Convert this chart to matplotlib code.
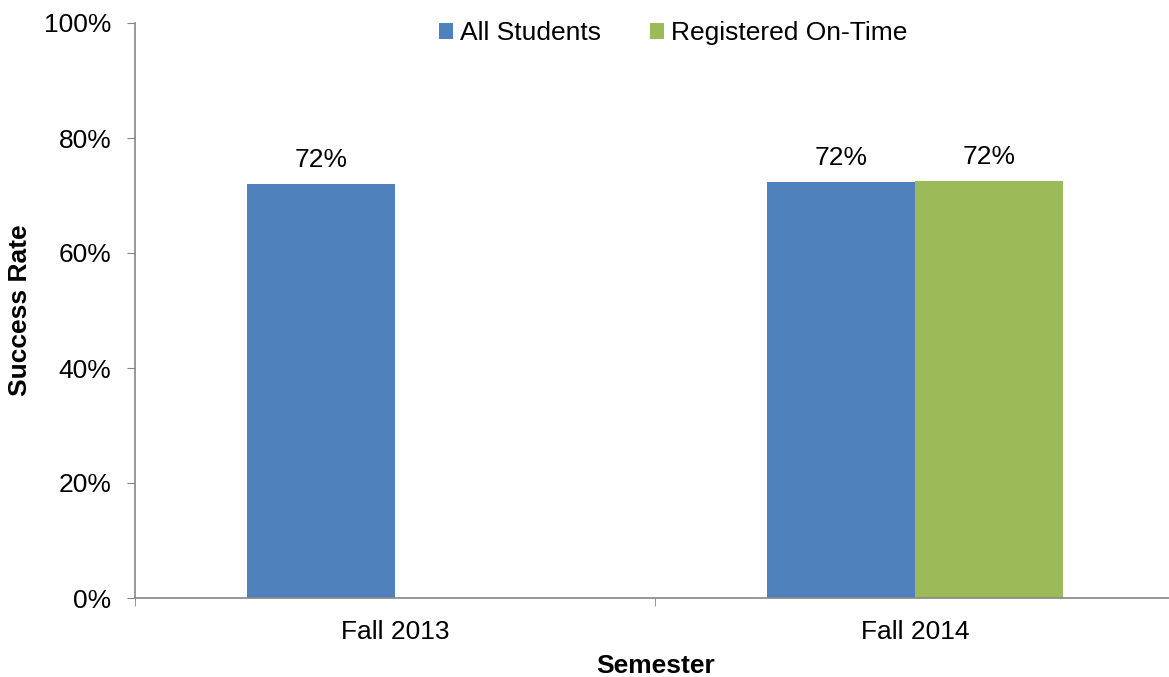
import matplotlib
matplotlib.use("Agg")
import matplotlib.pyplot as plt
import numpy as np

plt.rcParams['font.family'] = ['Liberation Sans', 'DejaVu Sans']

semesters = ["Fall 2013", "Fall 2014"]
all_students = [0.72, 0.724]
registered_on_time = [np.nan, 0.725]
all_labels = ["72%", "72%"]
reg_labels = ["", "72%"]
series_names = ["All Students", "Registered On-Time"]

blue = "#4F81BD"
green = "#9BBB59"
axis_gray = "#868686"
FS = 19

fig = plt.figure(figsize=(11.69, 6.77), dpi=100)
ax = fig.add_axes([135/1169, 79/677, 1040/1169, 575/677])

x = np.arange(len(semesters))
w = 0.285
b1 = ax.bar(x - w/2, all_students, width=w, color=blue, label=series_names[0])
b2 = ax.bar(x + w/2, registered_on_time, width=w, color=green, label=series_names[1])

for bars, labels in ((b1, all_labels), (b2, reg_labels)):
    for rect, lab in zip(bars, labels):
        h = rect.get_height()
        if lab and not np.isnan(h):
            ax.annotate(lab, (rect.get_x() + rect.get_width()/2, h), xytext=(0, 8.5),
                        textcoords="offset points", ha="center", va="bottom", fontsize=FS)

ax.set_xlim(-0.5, len(semesters) - 0.5)
ax.set_ylim(0, 1.0)
yt = np.arange(0, 1.01, 0.2)
ax.set_yticks(yt)
ax.set_yticklabels([f"{int(round(v*100))}%" for v in yt], fontsize=FS)
ax.set_xticks(x)
ax.set_xticklabels(semesters, fontsize=FS)
ax.tick_params(axis='x', which='major', length=0, pad=15.5)
ax.set_xticks(np.arange(-0.5, len(semesters), 1.0), minor=True)
ax.tick_params(axis='x', which='minor', length=6, color=axis_gray, direction='out')
ax.tick_params(axis='y', length=6, color=axis_gray, direction='out', pad=11)

for s in ['top', 'right']:
    ax.spines[s].set_visible(False)
for s in ['left', 'bottom']:
    ax.spines[s].set_color(axis_gray)
    ax.spines[s].set_linewidth(1.2)

fig.text(20/1169, (677 - 310)/677, "Success Rate", rotation=90, ha="center", va="center",
         fontsize=FS, fontweight='bold')
fig.text(656/1169, (677 - 666)/677, "Semester", ha="center", va="center",
         fontsize=FS, fontweight='bold')

leg = ax.legend(loc='center', bbox_to_anchor=((673 - 135) / 1040, (598 - 33) / 575),
                ncol=2, frameon=False, fontsize=FS, handlelength=0.55, handleheight=0.55,
                handletextpad=0.25, columnspacing=1.85, borderpad=0)

fig.savefig("out.png", dpi=100)
